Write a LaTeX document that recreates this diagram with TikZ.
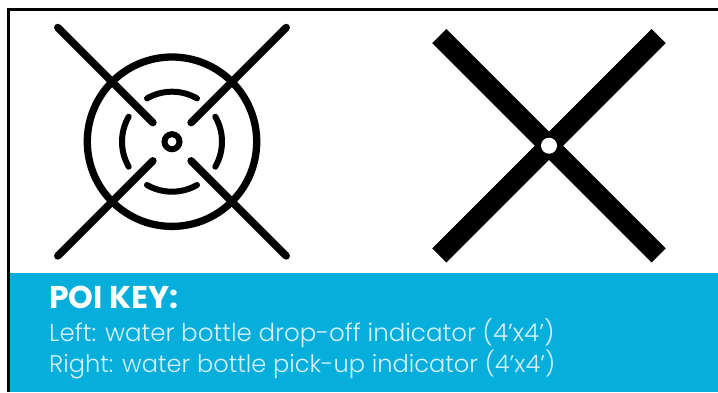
\documentclass[tikz,border=0pt]{standalone}
\usepackage{fontspec}
\usetikzlibrary{calc}
\setmainfont{Poppins}[UprightFont=* Light,BoldFont=* Bold]
\definecolor{keyblue}{HTML}{06AEDC}
\definecolor{keytext}{HTML}{D6F1F9}
\begin{document}
\begin{tikzpicture}[x=1pt,y=-1pt,
  thinstroke/.style={line width=7.5pt,line cap=round,black},
  arcstroke/.style={line width=6pt,line cap=round,black},
  barstroke/.style={line width=20pt,black},
  keyhead/.style={anchor=base west,inner sep=0pt,text=white,font=\fontsize{31.5}{34}\selectfont\bfseries},
  keyline/.style={anchor=base west,inner sep=0pt,text=keytext}]
\useasboundingbox (0,0) rectangle (718,392);
\fill[white] (0,0) rectangle (718,392);
\fill[keyblue] (10,273) rectangle (718,392);
\fill[black] (7,8) rectangle (718,11);
\fill[black] (7,8) rectangle (10,392);
% left icon
\coordinate (c) at (172,141.7);
\draw[line width=7.3pt] (c) circle[radius=84.7pt];
\draw[line width=6pt] (c) circle[radius=7.5pt];
\foreach \a in {45,135,225,315}{
  \draw[thinstroke] ($(c)+(\a:27pt)$) -- ($(c)+(\a:161.5pt)$);
}
\foreach \a in {0,90,180,270}{
  \draw[arcstroke] ($(c)+(\a-30:50pt)$) arc[start angle=\a-30,end angle=\a+30,radius=50pt];
}
% right icon
\coordinate (tl) at (439.3,36);
\coordinate (tr) at (658.7,36);
\coordinate (bl) at (439.3,255.5);
\coordinate (br) at (658.7,255.5);
\coordinate (m) at (549,145.7);
\draw[barstroke] (tl) -- (br);
\draw[barstroke] (tr) -- (bl);
\fill[white] (m) circle[radius=8pt];
% text
\node[keyhead] (h) at (49,308.5) {POI KEY:};
\node[keyline,font=\fontsize{24.55}{28}\selectfont] (l1) at (49,341) {Left: water bottle drop-off indicator (4’x4’)};
\node[keyline,font=\fontsize{24.1}{28}\selectfont] (l2) at (49,372.5) {Right: water bottle pick-up indicator (4’x4’)};
\end{tikzpicture}
\end{document}
